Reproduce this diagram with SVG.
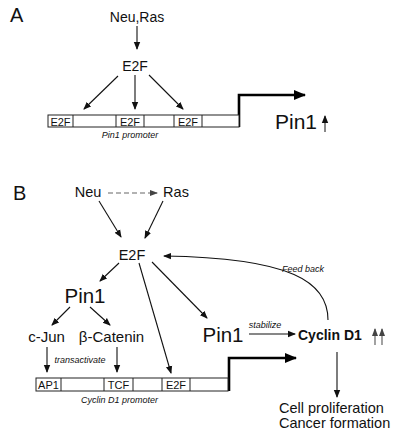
<svg xmlns="http://www.w3.org/2000/svg" width="400" height="440" viewBox="0 0 400 440">
<style>
text{font-family:"Liberation Sans",Arial,sans-serif;fill:#111}
.it{font-style:italic;font-size:9px}
.bx{fill:#fff;stroke:#222;stroke-width:1}
.cell{font-size:11px}
.ln{stroke:#111;stroke-width:1.1;fill:none}
.thk{stroke:#000;stroke-width:2.6;fill:none}
</style>
<defs>
<marker id="ah" markerWidth="8" markerHeight="8" refX="7" refY="4" orient="auto" markerUnits="userSpaceOnUse"><path d="M0,0.8 L8,4 L0,7.2 Z" fill="#111"/></marker>
<marker id="ahb" markerWidth="12" markerHeight="10" refX="11" refY="5" orient="auto" markerUnits="userSpaceOnUse"><path d="M0,0 L12,5 L0,10 Z" fill="#000"/></marker>
<marker id="ahg" markerWidth="8" markerHeight="8" refX="7" refY="4" orient="auto" markerUnits="userSpaceOnUse"><path d="M0,1 L8,4 L0,7 Z" fill="#444"/></marker>
</defs>

<text x="10" y="22" font-size="20">A</text>
<text x="13" y="200" font-size="20">B</text>

<g id="connectors">
<line class="ln" x1="137" y1="26" x2="137" y2="49" marker-end="url(#ah)"/>
<line class="ln" x1="118" y1="76" x2="84" y2="109" marker-end="url(#ah)"/>
<line class="ln" x1="135" y1="75" x2="135" y2="109" marker-end="url(#ah)"/>
<line class="ln" x1="149" y1="75" x2="183" y2="109" marker-end="url(#ah)"/>
<path class="thk" d="M239,127 V95 H305" marker-end="url(#ahb)"/>
<line x1="325" y1="132" x2="325" y2="116" stroke="#111" stroke-width="1" marker-end="url(#ah)"/>

<line x1="108" y1="193" x2="157" y2="193" stroke="#666" stroke-width="1.1" stroke-dasharray="5,3" marker-end="url(#ahg)"/>
<line class="ln" x1="99" y1="201" x2="121" y2="237" marker-end="url(#ah)"/>
<line class="ln" x1="163" y1="201" x2="145" y2="238" marker-end="url(#ah)"/>
<line class="ln" x1="119" y1="263" x2="100" y2="281" marker-end="url(#ah)"/>
<line class="ln" x1="139" y1="263" x2="171" y2="373" marker-end="url(#ah)"/>
<line class="ln" x1="152" y1="262" x2="207" y2="318" marker-end="url(#ah)"/>
<path class="ln" d="M328,320 C328,282 292,258 164,256" marker-end="url(#ah)"/>
<line class="ln" x1="70" y1="307" x2="52" y2="325" marker-end="url(#ah)"/>
<line class="ln" x1="90" y1="307" x2="110" y2="325" marker-end="url(#ah)"/>
<line class="ln" x1="47" y1="347" x2="47" y2="372" marker-end="url(#ah)"/>
<line class="ln" x1="117" y1="347" x2="117" y2="372" marker-end="url(#ah)"/>
<line class="ln" x1="249" y1="334" x2="295" y2="334" marker-end="url(#ah)"/>
<path class="thk" d="M229,391 V358 H296" marker-end="url(#ahb)"/>
<line x1="375" y1="345" x2="375" y2="329" stroke="#555" stroke-width="1.1" marker-end="url(#ahg)"/>
<line x1="382" y1="345" x2="382" y2="329" stroke="#555" stroke-width="1.1" marker-end="url(#ahg)"/>
<line class="ln" x1="337" y1="352" x2="337" y2="397" stroke-width="1.3" marker-end="url(#ah)"/>
</g>

<g id="neuras-a"><text x="137" y="22" font-size="14" text-anchor="middle">Neu,Ras</text></g>
<g id="e2f-a"><text x="135" y="71" font-size="14" text-anchor="middle">E2F</text></g>
<g id="pin1-promoter">
<rect class="bx" x="48" y="115" width="191" height="12"/>
<line class="bx" x1="73" y1="115" x2="73" y2="127"/>
<line class="bx" x1="116" y1="115" x2="116" y2="127"/>
<line class="bx" x1="144" y1="115" x2="144" y2="127"/>
<line class="bx" x1="174" y1="115" x2="174" y2="127"/>
<line class="bx" x1="202" y1="115" x2="202" y2="127"/>
<text class="cell" x="60.5" y="125.5" text-anchor="middle">E2F</text>
<text class="cell" x="130" y="125.5" text-anchor="middle">E2F</text>
<text class="cell" x="188" y="125.5" text-anchor="middle">E2F</text>
<text class="it" x="130" y="138" text-anchor="middle">Pin1 promoter</text>
</g>
<g id="pin1-a"><text x="275" y="129" font-size="21">Pin1</text></g>

<g id="neu"><text x="88" y="197" font-size="14.5" text-anchor="middle">Neu</text></g>
<g id="ras"><text x="176" y="197" font-size="14.5" text-anchor="middle">Ras</text></g>
<g id="e2f-b"><text x="132" y="260" font-size="14.5" text-anchor="middle">E2F</text></g>
<g id="feedback"><text class="it" x="282" y="272">Feed back</text></g>
<g id="pin1-left"><text x="85" y="303" font-size="20.5" text-anchor="middle">Pin1</text></g>
<g id="cjun"><text x="46.5" y="342" font-size="15" text-anchor="middle">c-Jun</text></g>
<g id="bcatenin"><text x="111.5" y="342" font-size="15" text-anchor="middle">β-Catenin</text></g>
<g id="transactivate"><text class="it" x="80" y="363" text-anchor="middle">transactivate</text></g>
<g id="cyclin-promoter">
<rect class="bx" x="36" y="378" width="192" height="13"/>
<line class="bx" x1="61" y1="378" x2="61" y2="391"/>
<line class="bx" x1="104" y1="378" x2="104" y2="391"/>
<line class="bx" x1="133" y1="378" x2="133" y2="391"/>
<line class="bx" x1="162" y1="378" x2="162" y2="391"/>
<line class="bx" x1="190" y1="378" x2="190" y2="391"/>
<text class="cell" x="48.5" y="389" text-anchor="middle">AP1</text>
<text class="cell" x="118.5" y="389" text-anchor="middle">TCF</text>
<text class="cell" x="176" y="389" text-anchor="middle">E2F</text>
<text class="it" x="119.5" y="403" text-anchor="middle">Cyclin D1 promoter</text>
</g>
<g id="pin1-right"><text x="223" y="342" font-size="20.5" text-anchor="middle">Pin1</text></g>
<g id="stabilize"><text class="it" x="265" y="328" text-anchor="middle">stabilize</text></g>
<g id="cyclind1"><text x="298" y="340" font-size="14" font-weight="bold">Cyclin D1</text></g>
<g id="outcome">
<text x="279" y="413" font-size="14.5">Cell proliferation</text>
<text x="279" y="428" font-size="14.5">Cancer formation</text>
</g>
</svg>
